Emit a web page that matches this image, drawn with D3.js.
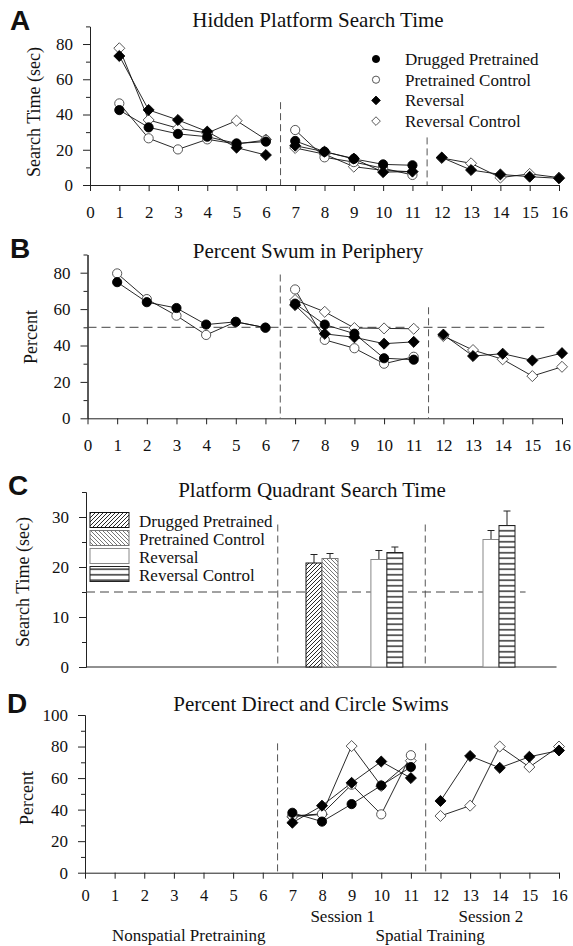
<!DOCTYPE html>
<html><head><meta charset="utf-8">
<script src="https://cdn.jsdelivr.net/npm/d3@7/dist/d3.min.js"></script>
<style>
body{margin:0;background:#fff}
svg{display:block}
text{font-family:"Liberation Serif","Times New Roman",serif;fill:#111}
</style>
</head><body>
<svg id="chart" width="573" height="946"></svg>
<script>
// ---------------- DATA ----------------
const days = [1,2,3,4,5,6,7,8,9,10,11,12,13,14,15,16];
const xTickValues = [0,1,2,3,4,5,6,7,8,9,10,11,12,13,14,15,16];
const xTickLabels = ["0","1","2","3","4","5","6","7","8","9","10","11","12","13","14","15","16"];
const seriesNames = ["Drugged Pretrained","Pretrained Control","Reversal","Reversal Control"];
const phaseBreaks = [6.5, 11.5];

// Panel A: Hidden Platform Search Time (sec)
const aDrugged   = [42.5,32.7,29.0,27.4,23.6,24.6,25.0,18.9,14.8,11.7,11.2,null,null,null,null,null];
const aPreCtrl   = [46.3,26.5,20.2,25.9,23.3,25.5,31.2,15.7,13.0, 9.5, 5.7,null,null,null,null,null];
const aReversal  = [73.2,42.6,36.9,30.3,21.2,17.0,22.3,18.9,15.0, 7.3, 7.6,15.6, 8.5, 6.0, 4.7, 3.8];
const aRevCtrl   = [77.6,36.9,32.2,29.5,36.5,25.8,21.0,17.5,10.4, 8.3, 7.5,15.3,12.3, 4.2, 6.3, 4.2];

// Panel B: Percent Swum in Periphery
const bDrugged   = [74.8,63.8,60.6,51.5,53.0,49.8,63.0,51.5,46.5,33.0,32.2,null,null,null,null,null];
const bPreCtrl   = [79.6,65.5,56.4,45.8,53.0,49.8,70.8,43.1,38.5,30.0,33.8,null,null,null,null,null];
const bReversal  = [null,null,null,null,null,null,62.2,46.4,44.5,41.0,42.0,46.0,34.2,35.5,31.8,35.8];
const bRevCtrl   = [null,null,null,null,null,null,65.0,58.5,49.6,49.4,49.2,45.2,37.5,32.4,23.2,28.3];
const bChance = 50;

// Panel C: Platform Quadrant Search Time (sec)
const cGroupDays   = [8, 10.2, 14];
const cDrugged     = [20.8, null, null];
const cDruggedErr  = [1.7, null, null];
const cPreCtrl     = [21.7, null, null];
const cPreCtrlErr  = [1.0, null, null];
const cReversal    = [null, 21.5, 25.5];
const cReversalErr = [null, 1.8, 1.8];
const cRevCtrl     = [null, 22.9, 28.3];
const cRevCtrlErr  = [null, 1.1, 2.9];
const cChance = 15;

// Panel D: Percent Direct and Circle Swims
const dDrugged   = [null,null,null,null,null,null,38.0,32.4,43.5,55.3,67.0,null,null,null,null,null];
const dPreCtrl   = [null,null,null,null,null,null,36.0,37.3,55.8,37.0,74.5,null,null,null,null,null];
const dReversal  = [null,null,null,null,null,null,31.7,42.5,57.0,70.5,60.0,45.5,74.0,66.5,73.5,77.5];
const dRevCtrl   = [null,null,null,null,null,null,35.5,37.0,80.3,55.0,71.0,36.0,42.5,80.0,67.0,80.0];

const sessionLabels = ["Session 1","Session 2"];
const sessionDays = [8.7, 13.7];
const phaseLabels = ["Nonspatial Pretraining","Spatial Training"];
const phaseDays = [3.5, 11.65];

// ---------------- DRAWING ----------------
const svg = d3.select("#chart");
const defs = svg.append("defs");

function addPattern(id, w, h, d, color, sw){
  const p = defs.append("pattern").attr("id", id).attr("patternUnits","userSpaceOnUse")
    .attr("width", w).attr("height", h);
  p.append("rect").attr("width", w).attr("height", h).attr("fill","#fff");
  p.append("path").attr("d", d).attr("stroke", color).attr("stroke-width", sw).attr("fill","none");
}
addPattern("hFwd", 4, 4, "M-1,1 L1,-1 M0,4 L4,0 M3,5 L5,3", "#111", 0.9);
addPattern("hBack", 4, 4, "M-1,3 L1,5 M0,0 L4,4 M3,-1 L5,1", "#666", 0.9);
addPattern("hHor", 6, 5.5, "M0,2.75 H6", "#111", 1.3);

const styles = {
  "Drugged Pretrained": {shape:"circle", filled:true,  fill:"url(#hFwd)",  stroke:"#111"},
  "Pretrained Control": {shape:"circle", filled:false, fill:"url(#hBack)", stroke:"#777"},
  "Reversal":           {shape:"diamond",filled:true,  fill:"#fff",        stroke:"#888"},
  "Reversal Control":   {shape:"diamond",filled:false, fill:"url(#hHor)",  stroke:"#222"}
};

function markerPath(shape, s){
  if (shape === "circle") {
    const p = d3.path(); p.moveTo(s,0); p.arc(0,0,s,0,Math.PI*2); p.closePath(); return p.toString();
  }
  const h = s*1.2;
  return `M0,${-h}L${h},0L0,${h}L${-h},0Z`;
}

function drawMarker(g, name, cx, cy, size){
  const st = styles[name];
  g.append("path").attr("d", markerPath(st.shape, size))
    .attr("transform", `translate(${cx},${cy})`)
    .attr("fill", st.filled ? "#000" : "#fff")
    .attr("stroke", st.filled ? "#000" : "#444")
    .attr("stroke-width", 0.9);
}

function styleAxis(sel, fs){
  sel.attr("font-family", null).attr("font-size", fs);
  sel.selectAll("path.domain").attr("stroke","#222").attr("stroke-width",1);
  sel.selectAll(".tick line").attr("stroke","#222").attr("stroke-width",1);
  sel.selectAll(".tick text").attr("fill","#111")
     .style("font-family",'"Liberation Serif","Times New Roman",serif');
}

function panelFrame(L){
  const g = svg.append("g");
  const x = d3.scaleLinear().domain([0,16]).range([L.x0, L.x1]);
  const y = d3.scaleLinear().domain([0, L.yMax]).range([L.y0, L.yTop]);
  g.append("g").attr("transform",`translate(${L.x0},0)`)
    .call(d3.axisLeft(y).tickValues(L.yMinor).tickSize(4).tickFormat("").tickSizeOuter(0))
    .call(s => styleAxis(s, 17));
  g.append("g").attr("transform",`translate(${L.x0},0)`)
    .call(d3.axisLeft(y).tickValues(L.yMajor).tickSize(7).tickPadding(10).tickSizeOuter(0))
    .call(s => styleAxis(s, 17));
  if (L.xAxis) {
    g.append("g").attr("transform",`translate(0,${L.y0})`)
      .call(d3.axisBottom(x).tickValues(xTickValues).tickFormat((d,i)=>xTickLabels[i])
        .tickSize(6).tickPadding(L.xPad).tickSizeOuter(0))
      .call(s => styleAxis(s, L.xFont));
  } else {
    g.append("line").attr("x1", L.x0).attr("x2", x(L.xEnd)).attr("y1", L.y0).attr("y2", L.y0)
      .attr("stroke","#222").attr("stroke-width",1);
  }
  phaseBreaks.forEach((b,i) => {
    g.append("line").attr("x1", x(b)).attr("x2", x(b)).attr("y1", y(L.dividerTop[i])).attr("y2", y(0))
      .attr("stroke","#555").attr("stroke-width",1).attr("stroke-dasharray","7,4");
  });
  svg.append("text").attr("x", L.titleX).attr("y", L.titleY).attr("text-anchor","middle")
    .attr("font-size", 21).text(L.title);
  svg.append("text").attr("x", L.letterX).attr("y", L.letterY)
    .style("font-family",'"Liberation Sans",Arial,sans-serif').attr("font-weight","bold")
    .attr("font-size", 28).text(L.letter);
  svg.append("text").attr("transform",`translate(${L.yLabelX},${L.yLabelY}) rotate(-90)`)
    .attr("text-anchor","middle").attr("font-size", 18).text(L.yLabel);
  return {g, x, y};
}

function drawSeries(P, seriesList){
  const {g, x, y} = P;
  const line = d3.line().defined(d => d.v != null).x(d => x(d.day)).y(d => y(d.v));
  seriesList.forEach(s => {
    const pts = days.map((d,i) => ({day:d, v:s.values[i], phase: phaseBreaks.filter(b => d > b).length}));
    [0,1,2].forEach(ph => {
      const seg = pts.filter(p => p.phase === ph && p.v != null);
      if (seg.length > 1) g.append("path").attr("d", line(seg)).attr("fill","none")
        .attr("stroke","#111").attr("stroke-width",0.9);
    });
  });
  seriesList.forEach(s => {
    days.forEach((d,i) => {
      const v = s.values[i];
      if (v != null) drawMarker(g, s.name, x(d), y(v), 4.6);
    });
  });
}

// Panel A
const LA = {letter:"A", title:"Hidden Platform Search Time", yLabel:"Search Time (sec)",
  x0:90, x1:559, y0:185, yTop:26.4, yMax:90, yMajor:[0,20,40,60,80], yMinor:[10,30,50,70,90],
  xAxis:true, xPad:15, xFont:17, dividerTop:[47,27], titleX:318, titleY:27, letterX:10, letterY:30, yLabelX:40, yLabelY:112};
const PA = panelFrame(LA);
drawSeries(PA, [
  {name:"Reversal Control", values:aRevCtrl},
  {name:"Pretrained Control", values:aPreCtrl},
  {name:"Reversal", values:aReversal},
  {name:"Drugged Pretrained", values:aDrugged}
]);
seriesNames.forEach((n,i) => {
  const yy = 59 + i*20.7;
  drawMarker(svg, n, 376, yy, 3.6);
  svg.append("text").attr("x", 405).attr("y", yy + 6).attr("font-size", 17).text(n);
});

// Panel B
const LB = {letter:"B", title:"Percent Swum in Periphery", yLabel:"Percent",
  x0:87.5, x1:562, y0:418.3, yTop:254.5, yMax:90, yMajor:[0,20,40,60,80], yMinor:[10,30,50,70,90],
  xAxis:true, xPad:15, xFont:17, dividerTop:[79,61], titleX:308, titleY:258, letterX:10, letterY:258, yLabelX:37, yLabelY:337};
const PB = panelFrame(LB);
PB.g.append("line").attr("x1", PB.x(0)).attr("x2", PB.x(15.4)).attr("y1", PB.y(bChance)).attr("y2", PB.y(bChance))
  .attr("stroke","#444").attr("stroke-width",1).attr("stroke-dasharray","9,5");
drawSeries(PB, [
  {name:"Reversal Control", values:bRevCtrl},
  {name:"Pretrained Control", values:bPreCtrl},
  {name:"Reversal", values:bReversal},
  {name:"Drugged Pretrained", values:bDrugged}
]);

// Panel C
const LC = {letter:"C", title:"Platform Quadrant Search Time", yLabel:"Search Time (sec)",
  x0:86, x1:558, y0:667, yTop:492, yMax:35, yMajor:[0,10,20,30], yMinor:[5,15,25,35],
  xAxis:false, xEnd:15.95, dividerTop:[28.5,28.5], titleX:312, titleY:497, letterX:8, letterY:495, yLabelX:29, yLabelY:582};
const PC = panelFrame(LC);
PC.g.append("line").attr("x1", PC.x(0)).attr("x2", PC.x(14.9)).attr("y1", PC.y(cChance)).attr("y2", PC.y(cChance))
  .attr("stroke","#444").attr("stroke-width",1).attr("stroke-dasharray","9,5");
const barW = 16;
const cBars = [
  {name:"Drugged Pretrained", vals:cDrugged, errs:cDruggedErr, side:-1},
  {name:"Pretrained Control", vals:cPreCtrl, errs:cPreCtrlErr, side:0},
  {name:"Reversal", vals:cReversal, errs:cReversalErr, side:-1},
  {name:"Reversal Control", vals:cRevCtrl, errs:cRevCtrlErr, side:0}
];
cBars.forEach(b => {
  cGroupDays.forEach((gd,i) => {
    const v = b.vals[i]; if (v == null) return;
    const left = PC.x(gd) + b.side*barW;
    const st = styles[b.name];
    const cx = left + barW/2;
    const yTop = PC.y(v), yErr = PC.y(v + b.errs[i]);
    PC.g.append("line").attr("x1", cx).attr("x2", cx).attr("y1", yTop).attr("y2", yErr)
      .attr("stroke","#222").attr("stroke-width",1);
    PC.g.append("line").attr("x1", cx-3.5).attr("x2", cx+3.5).attr("y1", yErr).attr("y2", yErr)
      .attr("stroke","#222").attr("stroke-width",1);
    PC.g.append("rect").attr("x", left).attr("y", yTop).attr("width", barW).attr("height", PC.y(0)-yTop)
      .attr("fill", st.fill).attr("stroke", st.stroke).attr("stroke-width", 1);
  });
});
seriesNames.forEach((n,i) => {
  const yy = 520 + i*18;
  const st = styles[n];
  svg.append("rect").attr("x", 90).attr("y", yy-7.5).attr("width", 39).attr("height", 15)
    .attr("fill", st.fill).attr("stroke", st.stroke).attr("stroke-width", 1);
  svg.append("text").attr("x", 139).attr("y", yy + 7).attr("font-size", 17).text(n);
});

// Panel D
const LD = {letter:"D", title:"Percent Direct and Circle Swims", yLabel:"Percent",
  x0:85, x1:559, y0:872.7, yTop:715, yMax:100, yMajor:[0,20,40,60,80,100], yMinor:[10,30,50,70,90],
  xAxis:true, xPad:11, xFont:16.5, dividerTop:[82,82], titleX:311, titleY:711, letterX:7, letterY:713, yLabelX:33, yLabelY:798};
const PD = panelFrame(LD);
drawSeries(PD, [
  {name:"Reversal Control", values:dRevCtrl},
  {name:"Pretrained Control", values:dPreCtrl},
  {name:"Reversal", values:dReversal},
  {name:"Drugged Pretrained", values:dDrugged}
]);
sessionLabels.forEach((t,i) => {
  svg.append("text").attr("x", PD.x(sessionDays[i])).attr("y", 921.5).attr("text-anchor","middle")
    .attr("font-size", 17).text(t);
});
phaseLabels.forEach((t,i) => {
  svg.append("text").attr("x", PD.x(phaseDays[i])).attr("y", 941).attr("text-anchor","middle")
    .attr("font-size", 17).text(t);
});
</script>
</body></html>
